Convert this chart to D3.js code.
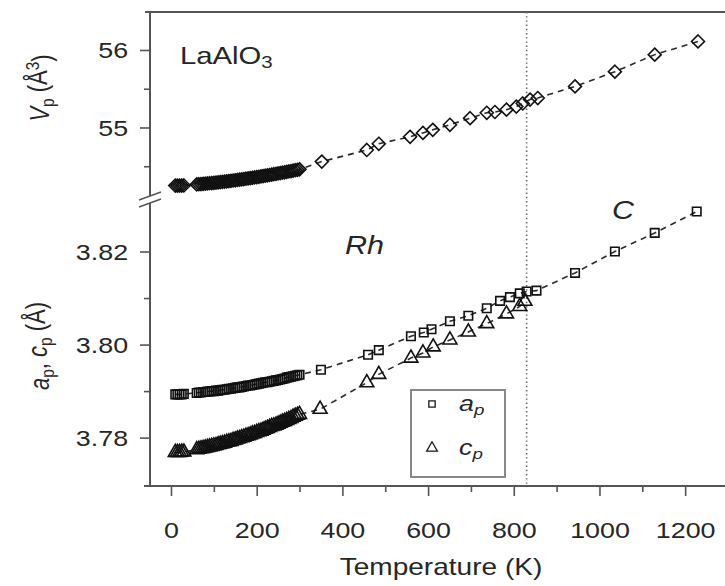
<!DOCTYPE html>
<html>
<head>
<meta charset="utf-8">
<script src="https://cdn.jsdelivr.net/npm/d3@7"></script>
<style>
  body { margin: 0; background: #fff; }
  svg { display: block; }
  text { font-family: "Liberation Sans", Arial, Helvetica, sans-serif; fill: #262626; }
</style>
</head>
<body>
<svg id="chart" width="725" height="586"></svg>
<script>
// ---- data -------------------------------------------------------------
// Low-temperature scans (K)
const tempLow = [10, 15, 20, 25, 30,
  60, 65, 70, 75, 80, 85, 90, 95, 100, 105, 110, 115, 120, 125, 130, 135, 140, 145,
  150, 155, 160, 165, 170, 175, 180, 185, 190, 195, 200, 205, 210, 215, 220, 225,
  230, 235, 240, 245, 250, 255, 260, 265, 270, 275, 280, 285, 290, 295, 300];
// pseudo-cubic cell volume V_p (Å^3), low-temperature scans
const volLow = [54.250, 54.250, 54.250, 54.251, 54.252,
  54.266, 54.268, 54.270, 54.273, 54.275, 54.278, 54.281, 54.283, 54.286, 54.289, 54.292, 54.295, 54.298, 54.302, 54.305, 54.309, 54.312, 54.316,
  54.319, 54.323, 54.327, 54.331, 54.335, 54.339, 54.343, 54.347, 54.351, 54.355, 54.360, 54.364, 54.369, 54.373, 54.378, 54.383,
  54.387, 54.392, 54.397, 54.402, 54.407, 54.412, 54.417, 54.422, 54.427, 54.433, 54.438, 54.443, 54.449, 54.454, 54.460];
// pseudo-cubic a_p (Å), low-temperature scans
const aLow = [3.7893, 3.7893, 3.7893, 3.7893, 3.7894,
  3.7896, 3.7897, 3.7897, 3.7898, 3.7898, 3.7899, 3.7899, 3.7900, 3.7900, 3.7901, 3.7901, 3.7902, 3.7903, 3.7903, 3.7904, 3.7905, 3.7905, 3.7906,
  3.7907, 3.7908, 3.7908, 3.7909, 3.7910, 3.7911, 3.7912, 3.7912, 3.7913, 3.7914, 3.7915, 3.7916, 3.7917, 3.7918, 3.7919, 3.7919,
  3.7920, 3.7921, 3.7922, 3.7923, 3.7924, 3.7925, 3.7926, 3.7927, 3.7929, 3.7930, 3.7931, 3.7932, 3.7933, 3.7934, 3.7935];
// pseudo-cubic c_p (Å), low-temperature scans
const cLow = [3.7768, 3.7768, 3.7768, 3.7769, 3.7769,
  3.7774, 3.7775, 3.7776, 3.7777, 3.7778, 3.7779, 3.7780, 3.7781, 3.7782, 3.7783, 3.7785, 3.7786, 3.7787, 3.7788, 3.7790, 3.7791, 3.7792, 3.7794,
  3.7795, 3.7797, 3.7798, 3.7800, 3.7801, 3.7803, 3.7804, 3.7806, 3.7808, 3.7809, 3.7811, 3.7813, 3.7814, 3.7816, 3.7818, 3.7820,
  3.7822, 3.7824, 3.7825, 3.7827, 3.7829, 3.7831, 3.7833, 3.7835, 3.7837, 3.7839, 3.7841, 3.7844, 3.7846, 3.7848, 3.7850];

// High-temperature scans
const tempHighV = [352, 457, 485, 558, 588, 611, 651, 698, 737, 756, 783, 806, 821, 838, 856, 943, 1036, 1129, 1230];
const volHigh   = [54.56, 54.71, 54.79, 54.88, 54.93, 54.97, 55.035, 55.12, 55.19, 55.20, 55.23, 55.27, 55.31, 55.36, 55.38, 55.53, 55.72, 55.94, 56.11];

const tempHighA = [350, 460, 485, 560, 590, 608, 651, 694, 737, 768, 791, 814, 830, 853, 943, 1036, 1129, 1227];
const aHigh     = [3.7946, 3.7978, 3.7988, 3.8018, 3.8026, 3.8033, 3.8050, 3.8062, 3.8078, 3.8094, 3.8102, 3.8110, 3.8114, 3.8116, 3.8154, 3.8200, 3.8240, 3.8286];

const tempHighC = [348, 457, 485, 560, 588, 612, 651, 694, 737, 783, 814, 826];
const cHigh     = [3.7861, 3.7918, 3.7936, 3.7971, 3.7982, 3.7995, 3.8010, 3.8027, 3.8045, 3.8066, 3.8082, 3.8093];

// Rhombohedral -> cubic transition temperature (K)
const transitionT = 830;

// Axis ticks
const tempTicks = [0, 200, 400, 600, 800, 1000, 1200];
const tempMinor = [100, 300, 500, 700, 900, 1100];
const volTicks = [55, 56];
const volMinor = [54.5, 55.5];
const latTicks = [3.78, 3.80, 3.82];
const latMinor = [3.79, 3.81];

// ---- layout ----------------------------------------------------------
const svg = d3.select("#chart");
const SX = 1.22;   // horizontal stretch of the lettering
const ink = "#262626";
const frame = "#555";

const x  = d3.scaleLinear().domain([-49, 1293]).range([150, 725]);
const yV = d3.scaleLinear().domain([54.0, 56.49]).range([205, 12]);
const yL = d3.scaleLinear().domain([3.7696, 3.830]).range([486, 205]);

const zip = (ts, vs) => ts.map((t, i) => ({ t, v: vs[i] }));
const volPts = zip(tempLow, volLow).concat(zip(tempHighV, volHigh));
const aPts   = zip(tempLow, aLow).concat(zip(tempHighA, aHigh));
const cPts   = zip(tempLow, cLow).concat(zip(tempHighC, cHigh));

// square standing on its corner
const symbolRhomb = {
  draw(ctx, size) {
    const r = Math.sqrt(size / 2);
    ctx.moveTo(0, -r); ctx.lineTo(r, 0); ctx.lineTo(0, r); ctx.lineTo(-r, 0); ctx.closePath();
  }
};

// ---- frame -----------------------------------------------------------
const fr = svg.append("g").attr("stroke", frame).attr("stroke-width", 2).attr("fill", "none");
fr.append("line").attr("x1", 145).attr("x2", 725).attr("y1", 12).attr("y2", 12);
fr.append("line").attr("x1", 144).attr("x2", 725).attr("y1", 486).attr("y2", 486);
fr.append("line").attr("x1", 150).attr("x2", 150).attr("y1", 11).attr("y2", 196);
fr.append("line").attr("x1", 150).attr("x2", 150).attr("y1", 203).attr("y2", 487);
// axis break marks
fr.append("line").attr("x1", 139).attr("y1", 200).attr("x2", 161).attr("y2", 192).attr("stroke-width", 1.6);
fr.append("line").attr("x1", 139).attr("y1", 207).attr("x2", 161).attr("y2", 199).attr("stroke-width", 1.6);

// ---- axes ------------------------------------------------------------
function styleAxis(g) {
  g.select(".domain").remove();
  g.selectAll(".tick line").attr("stroke", frame).attr("stroke-width", 1.6);
}
const fontTick = 22;

const gx = svg.append("g").attr("transform", "translate(0,486)")
  .call(d3.axisBottom(x).tickValues(tempTicks).tickSize(10).tickFormat(d3.format("d")))
  .call(styleAxis);
gx.selectAll(".tick text").attr("y", 52).attr("dy", 0)
  .attr("transform", `scale(${SX},1)`)
  .style("font-size", fontTick + "px").attr("fill", ink);
svg.append("g").attr("transform", "translate(0,486)")
  .call(d3.axisBottom(x).tickValues(tempMinor).tickSize(6).tickFormat(""))
  .call(styleAxis);

function leftAxis(scale, major, minor, fmt) {
  const g = svg.append("g").attr("transform", "translate(150,0)")
    .call(d3.axisLeft(scale).tickValues(major).tickSize(10).tickFormat(fmt))
    .call(styleAxis);
  g.selectAll(".tick text").attr("x", -18).attr("dy", "0.36em")
    .attr("transform", `scale(${SX},1)`)
    .style("font-size", fontTick + "px").attr("fill", ink);
  svg.append("g").attr("transform", "translate(150,0)")
    .call(d3.axisLeft(scale).tickValues(minor).tickSize(6).tickFormat(""))
    .call(styleAxis);
}
leftAxis(yV, volTicks, volMinor, d3.format("d"));
leftAxis(yL, latTicks, latMinor, d3.format(".2f"));

// ---- transition line ---------------------------------------------------
svg.append("line")
  .attr("x1", x(transitionT)).attr("x2", x(transitionT))
  .attr("y1", 12).attr("y2", 486)
  .attr("stroke", "#666").attr("stroke-width", 1.6)
  .attr("stroke-dasharray", "1.4,2.8");

// ---- series ------------------------------------------------------------
function series(pts, yScale, symType, symSize) {
  svg.append("path").datum(pts)
    .attr("fill", "none").attr("stroke", "#2a2a2a").attr("stroke-width", 1.6)
    .attr("stroke-dasharray", "6,5")
    .attr("d", d3.line().x(d => x(d.t)).y(d => yScale(d.v)));
  svg.append("g").selectAll("path").data(pts).join("path")
    .attr("transform", d => `translate(${x(d.t)},${yScale(d.v)})`)
    .attr("d", d3.symbol().type(symType).size(symSize))
    .attr("fill", "none").attr("stroke", "#111").attr("stroke-width", 1.6);
}
series(volPts, yV, symbolRhomb, 84);
series(aPts, yL, d3.symbolSquare, 72);
series(cPts, yL, d3.symbolTriangle, 84);

// ---- lettering ---------------------------------------------------------
function label(xp, yp, rot, size, build, anchor = "start") {
  const t = svg.append("text")
    .attr("transform", `translate(${xp},${yp}) scale(${SX},1)` + (rot ? ` rotate(${rot})` : ""))
    .attr("text-anchor", anchor)
    .style("font-size", size + "px");
  build(t);
  return t;
}
const sub = (t, s, italic) => t.append("tspan").text(s).attr("dy", "0.25em").style("font-size", "0.7em").style("font-style", italic ? "italic" : null);
const back = (t, s, dy) => t.append("tspan").text(s).attr("dy", dy);

label(180, 64, 0, 24, t => { t.append("tspan").text("LaAlO"); sub(t, "3"); });
label(345, 254, 0, 25, t => t.text("Rh").style("font-style", "italic"));
label(612, 219, 0, 25, t => t.text("C").style("font-style", "italic"));

// x title
label(441, 575, 0, 23, t => t.text("Temperature (K)"), "middle");

// y titles
label(49, 88, -90, 22, t => {
  t.append("tspan").text("V").style("font-style", "italic");
  sub(t, "p");
  back(t, " (Å", "-0.25em");
  t.append("tspan").text("3").attr("dy", "-0.45em").style("font-size", "0.7em");
  back(t, ")", "0.45em");
}, "middle");
label(49, 346, -90, 22, t => {
  t.append("tspan").text("a").style("font-style", "italic");
  sub(t, "p");
  back(t, ", ", "-0.25em");
  t.append("tspan").text("c").style("font-style", "italic");
  sub(t, "p");
  back(t, " (Å)", "-0.25em");
}, "middle");

// ---- legend ------------------------------------------------------------
const legend = [
  { name: "a", sym: d3.symbolSquare, size: 40, y: 404 },
  { name: "c", sym: d3.symbolTriangle, size: 50, y: 448 }
];
svg.append("rect").attr("x", 411).attr("y", 390).attr("width", 94).attr("height", 87)
  .attr("fill", "#fff").attr("stroke", "#888").attr("stroke-width", 2);
legend.forEach(l => {
  svg.append("path").attr("transform", `translate(432,${l.y})`)
    .attr("d", d3.symbol().type(l.sym).size(l.size))
    .attr("fill", "none").attr("stroke", "#1a1a1a").attr("stroke-width", 1.3);
  label(459, l.y + 7, 0, 22, t => {
    t.append("tspan").text(l.name).style("font-style", "italic");
    sub(t, "p", true);
  });
});
</script>
</body>
</html>
